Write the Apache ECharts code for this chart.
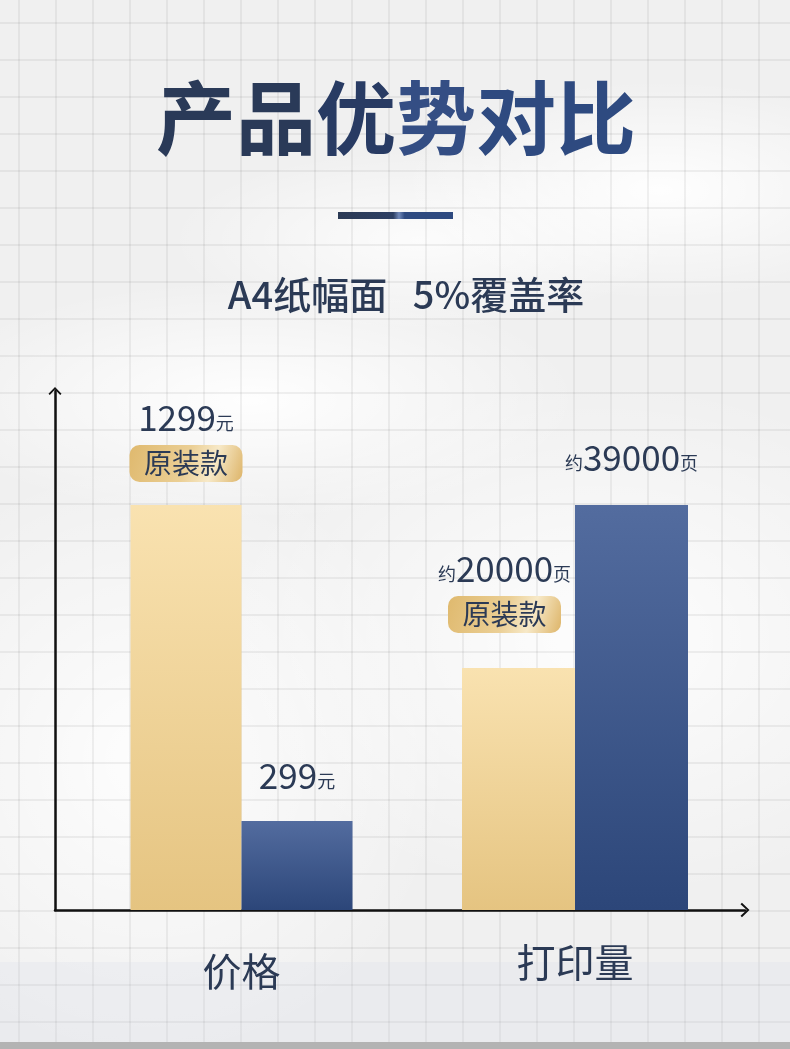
<!DOCTYPE html>
<html>
<head>
<meta charset="utf-8">
<script src="https://cdn.jsdelivr.net/npm/echarts@6/dist/echarts.min.js"></script>
<style>
html,body{margin:0;padding:0;width:790px;height:1049px;overflow:hidden;}
#bg{position:absolute;left:0;top:0;width:790px;height:1049px;
background:
 linear-gradient(to right, rgba(0,0,0,0.055) 2px, transparent 2px) 18px 0/37px 37px,
 linear-gradient(to bottom, rgba(0,0,0,0.055) 2px, transparent 2px) 0 22px/37px 37px,
 radial-gradient(ellipse 260px 110px at 660px 190px, rgba(255,255,255,0.95), rgba(255,255,255,0) 100%),
 radial-gradient(ellipse 330px 120px at 250px 400px, rgba(255,255,255,0.95), rgba(255,255,255,0) 100%),
 radial-gradient(ellipse 380px 260px at 600px 640px, rgba(255,255,255,0.9), rgba(255,255,255,0) 100%),
 radial-gradient(ellipse 300px 300px at 150px 760px, rgba(255,255,255,0.9), rgba(255,255,255,0) 100%),
 radial-gradient(ellipse 250px 90px at 420px 240px, rgba(255,255,255,0.8), rgba(255,255,255,0) 100%),
 #f0f0f0;}
#strip{position:absolute;left:0;top:962px;width:790px;height:80px;background:rgba(214,220,230,0.22);}
#band{position:absolute;left:0;top:1042px;width:790px;height:7px;background:#b3b3b3;}
#chart{position:absolute;left:0;top:0;width:790px;height:1049px;}
</style>
</head>
<body>
<div id="bg"></div>
<div id="strip"></div>
<div id="band"></div>
<div id="chart"></div>
<script>
// ---- data ----
const titleParts = ['产品', '优', '势', '对比'];   // 产品优势对比
const subtitleText = 'A4纸幅面   5%覆盖率';
const categories = ['价格', '打印量'];
const originalVals = [1299, 20000];     // 原装款
const compatibleVals = [299, 39000];    // 对比款
const units = ['元', '页'];
const prefixes = ['', '约'];
const badgeText = '原装款';

const NAVY = '#2b3a55';
const G = echarts.graphic.LinearGradient;
const goldBar = new G(0, 0, 0, 1, [{offset: 0, color: '#f9e2b0'}, {offset: 1, color: '#e5c481'}]);
const blueBar = new G(0, 0, 0, 1, [{offset: 0, color: '#536c9f'}, {offset: 1, color: '#2c4679'}]);
const badgeBg = new G(0, 0, 1, 1, [
  {offset: 0, color: '#dfb96e'}, {offset: 0.5, color: '#ebcf95'},
  {offset: 0.72, color: '#f7e9c8'}, {offset: 1, color: '#ddb468'}]);

const rich = {
  v: {fontSize: 35, color: NAVY, fontFamily: 'Noto Sans CJK SC', lineHeight: 40, verticalAlign: 'bottom'},
  u: {fontSize: 18, color: NAVY, fontFamily: 'Noto Sans CJK SC', lineHeight: 40, verticalAlign: 'bottom', padding: [0, 0, 3, 0]},
  gap: {height: 10, lineHeight: 10, fontSize: 1},
  b: {fontSize: 28, color: NAVY, fontFamily: 'Noto Sans CJK SC', width: 113, height: 37, lineHeight: 37,
      align: 'center', borderRadius: 10, backgroundColor: badgeBg}
};

function valueLabel(i, v) {
  return (prefixes[i] ? '{u|' + prefixes[i] + '}' : '') + '{v|' + v + '}{u|' + units[i] + '}';
}

const chevron = 'path://M8,0 L16,8.4 L14.4,10 L8,3 L1.6,10 L0,8.4 Z';
const titleFont = {fontSize: 80, fontWeight: 'bold', fontFamily: 'Noto Sans CJK SC', lineHeight: 90};

const chart = echarts.init(document.getElementById('chart'), null, {renderer: 'canvas'});

const option = {
  backgroundColor: 'transparent',
  animation: false,
  graphic: [
    {type: 'text', x: 396, y: 118, style: {
      text: '{a|' + titleParts[0] + '}{b|' + titleParts[1] + '}{c|' + titleParts[2] + '}{d|' + titleParts[3] + '}',
      align: 'center', verticalAlign: 'middle', textAlign: 'center', textVerticalAlign: 'middle',
      fill: '#2a3a59',
      rich: {
        a: Object.assign({fill: '#2a3a58'}, titleFont),
        b: Object.assign({fill: '#283b63'}, titleFont),
        c: Object.assign({fill: '#344e84'}, titleFont),
        d: Object.assign({fill: '#2e4a80'}, titleFont)
      }
    }},
    {type: 'rect', shape: {x: 338, y: 212, width: 115, height: 7}, style: {
      fill: new G(0, 0, 1, 0, [
        {offset: 0, color: '#2b3a55'}, {offset: 0.48, color: '#2d3f63'},
        {offset: 0.53, color: '#7088b8'}, {offset: 0.58, color: '#2e4a80'}, {offset: 1, color: '#2e4a80'}])
    }},
    {type: 'text', x: 406, y: 295, style: {
      text: subtitleText, font: '500 38px "Noto Sans CJK SC"', fill: NAVY,
      align: 'center', verticalAlign: 'middle', textAlign: 'center', textVerticalAlign: 'middle'
    }}
  ],
  grid: [
    {left: 55, right: 45, top: 391, bottom: 139},
    {left: 130, width: 223, top: 505, height: 405},
    {left: 462, width: 226, top: 505, height: 405}
  ],
  xAxis: [
    {gridIndex: 0, type: 'value', min: 0, max: 1, splitLine: {show: false}, axisTick: {show: false}, axisLabel: {show: false},
     axisLine: {show: true, symbol: ['none', chevron], symbolSize: [17, 9], lineStyle: {color: '#111', width: 2.5}}},
    {gridIndex: 1, type: 'category', data: [categories[0]], axisLine: {show: false, onZero: false}, axisTick: {show: false},
     axisLabel: {margin: 41, verticalAlign: 'top', fontSize: 39, color: NAVY, fontFamily: 'Noto Sans CJK SC', lineHeight: 40}},
    {gridIndex: 2, type: 'category', data: [categories[1]], axisLine: {show: false, onZero: false}, axisTick: {show: false},
     axisLabel: {margin: 32, verticalAlign: 'top', fontSize: 39, color: NAVY, fontFamily: 'Noto Sans CJK SC', lineHeight: 40}}
  ],
  yAxis: [
    {gridIndex: 0, type: 'value', min: 0, max: 1, splitLine: {show: false}, axisTick: {show: false}, axisLabel: {show: false},
     axisLine: {show: true, symbol: ['none', chevron], symbolSize: [13, 9], lineStyle: {color: '#111', width: 2.5}}},
    {gridIndex: 1, type: 'value', min: 17, max: 1299, startValue: 17, show: false, splitLine: {show: false}},
    {gridIndex: 2, type: 'value', min: -8200, max: 39000, startValue: -8200, show: false, splitLine: {show: false}}
  ],
  series: [
    {type: 'bar', xAxisIndex: 1, yAxisIndex: 1, barWidth: 111, barGap: '0%', data: [originalVals[0]],
     itemStyle: {color: goldBar},
     label: {show: true, position: 'top', distance: 23, rich: rich,
       formatter: () => valueLabel(0, originalVals[0]) + '\n{gap|}\n{b|' + badgeText + '}'}},
    {type: 'bar', xAxisIndex: 1, yAxisIndex: 1, barWidth: 111, barGap: '0%', data: [compatibleVals[0]],
     itemStyle: {color: blueBar},
     label: {show: true, position: 'top', distance: 28, rich: rich,
       formatter: () => valueLabel(0, compatibleVals[0])}},
    {type: 'bar', xAxisIndex: 2, yAxisIndex: 2, barWidth: 113, barGap: '0%', data: [originalVals[1]],
     itemStyle: {color: goldBar},
     label: {show: true, position: 'top', distance: 35, offset: [-14, 0], rich: rich,
       formatter: () => valueLabel(1, originalVals[1]) + '\n{gap|}\n{b|' + badgeText + '}'}},
    {type: 'bar', xAxisIndex: 2, yAxisIndex: 2, barWidth: 113, barGap: '0%', data: [compatibleVals[1]],
     itemStyle: {color: blueBar},
     label: {show: true, position: 'top', distance: 30, rich: rich,
       formatter: () => valueLabel(1, compatibleVals[1])}}
  ]
};
chart.setOption(option);
</script>
</body>
</html>
